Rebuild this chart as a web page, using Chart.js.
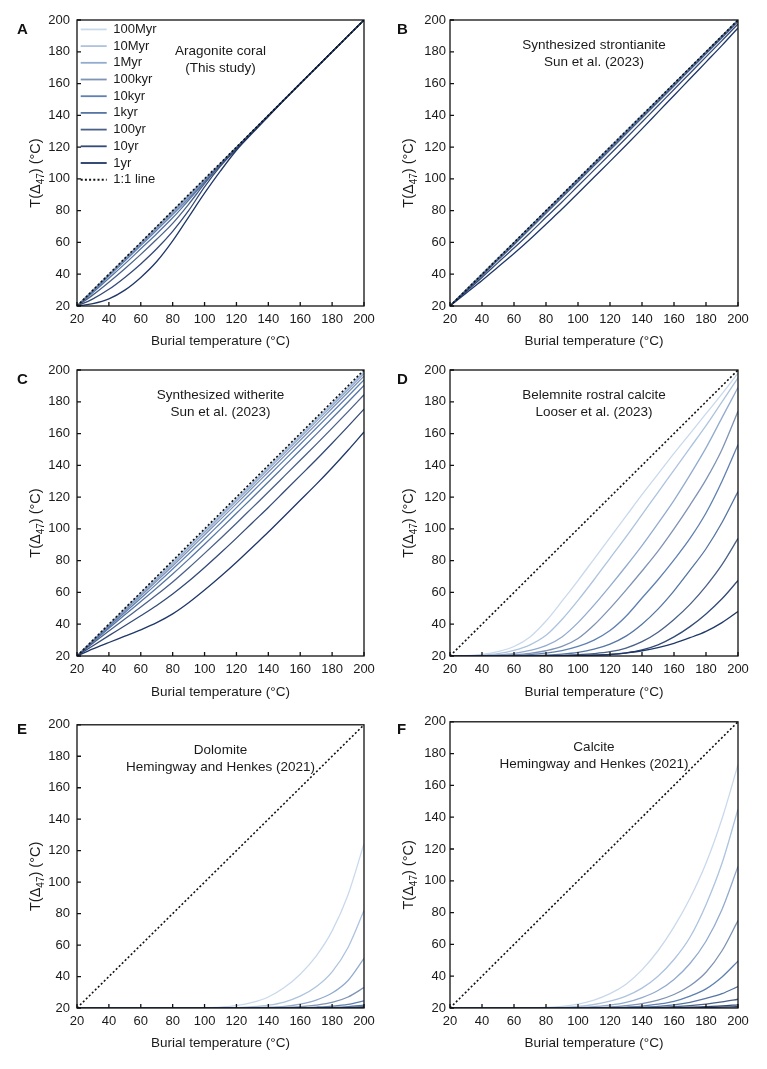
<!DOCTYPE html>
<html>
<head>
<meta charset="utf-8">
<title>Clumped isotope reordering</title>
<script src="https://cdn.jsdelivr.net/npm/chart.js@4.4.0/dist/chart.umd.min.js"></script>
<style>
  body { margin: 0; background: #fff; width: 767px; height: 1069px; position: relative; overflow: hidden; }
  canvas { position: absolute; }
</style>
</head>
<body>
<canvas id="pA" width="384" height="350" style="left:0;top:0"></canvas>
<canvas id="pB" width="383" height="350" style="left:384px;top:0"></canvas>
<canvas id="pC" width="384" height="360" style="left:0;top:350px"></canvas>
<canvas id="pD" width="383" height="360" style="left:384px;top:350px"></canvas>
<canvas id="pE" width="384" height="359" style="left:0;top:710px"></canvas>
<canvas id="pF" width="383" height="359" style="left:384px;top:710px"></canvas>
<script>
// burial temperature grid (°C) and the 1:1 reference line
var burialT  = [20,30,40,50,60,70,80,90,100,110,120,130,140,150,160,170,180,190,200];
var oneToOne = [20,30,40,50,60,70,80,90,100,110,120,130,140,150,160,170,180,190,200];
var axisTicks = [20,40,60,80,100,120,140,160,180,200];

var timeLabels = ['100Myr','10Myr','1Myr','100kyr','10kyr','1kyr','100yr','10yr','1yr'];
var lineColors = ['#c9d9ec','#adc3de','#93abcf','#7f93b4','#5f80b2','#5675a3','#4a6088','#334a77','#1f3768'];

// A - aragonite coral
var aMyr100 = [20,29.9,39.9,49.9,59.9,69.9,79.9,89.9,99.9,109.9,120,130,140,150,160,170,180,190,200];
var aMyr10  = [20,29.9,39.8,49.8,59.8,69.8,79.8,89.8,99.8,109.8,119.9,130,140,150,160,170,180,190,200];
var aMyr1   = [20,29.8,39.7,49.6,59.5,69.5,79.4,89.4,99.5,109.6,119.8,129.9,140,150,160,170,180,190,200];
var aKyr100 = [20,29.7,39.5,49.2,59,68.8,78.7,88.7,98.9,109.3,119.7,129.9,140,150,160,170,180,190,200];
var aKyr10  = [20,29.3,38.8,48.3,58,67.7,77.5,87.6,98,108.9,119.5,129.8,139.9,150,160,170,180,190,200];
var aKyr1   = [20,28.5,37.5,46.5,56,65.5,75.5,86.5,98,109.3,119.6,129.8,139.9,150,160,170,180,190,200];
var aYr100  = [20,27,35,43.5,52.5,62,72,84,97,109,119.4,129.7,139.9,150,160,170,180,190,200];
var aYr10   = [20,24.5,30.5,38,46.5,56,67,80,95,108,118.8,129.5,139.8,149.9,160,170,180,190,200];
var aYr1    = [20,21.5,24.5,30,38,48,61,76,91,105,118,128.8,139.3,149.7,159.9,170,180,190,200];

// B - synthesized strontianite
var bMyr100 = [20,30,40,50,60,70,80,90,100,110,120,130,140,150,160,170,180,190,200];
var bMyr10  = [20,30,40,50,60,70,80,90,100,110,120,130,140,150,160,170,180,190,200];
var bMyr1   = [20,29.97,39.95,49.92,59.9,69.9,79.9,89.9,99.9,109.9,119.9,129.9,139.9,149.9,159.9,169.9,179.9,189.95,200];
var bKyr100 = [20,29.95,39.9,49.85,59.8,69.8,79.75,89.75,99.75,109.75,119.75,129.75,139.75,149.8,159.8,169.8,179.85,189.9,199.9];
var bKyr10  = [20,29.9,39.8,49.7,59.65,69.55,79.5,89.5,99.5,109.5,119.5,129.5,139.5,149.55,159.6,169.65,179.7,189.75,199.8];
var bKyr1   = [20,29.8,39.55,49.35,59.2,69.05,78.95,88.9,98.9,108.9,118.9,128.95,139,149.1,159.2,169.3,179.4,189.5,199.6];
var bYr100  = [20,29.6,39.2,48.9,58.6,68.4,78.3,88.2,98.2,108.2,118.2,128.2,138.3,148.4,158.5,168.6,178.7,188.8,199];
var bYr10   = [20,29,38,47.3,56.5,66,75.8,85.5,95.5,105.5,115.5,125.6,135.8,146,156.3,166.5,176.8,187,197.5];
var bYr1    = [20,28,36,44.5,53,62,71.5,81,91,101,111,121.2,131.5,142,152.5,163,173.5,184,195];

// C - synthesized witherite
var cMyr100 = [20,29.9,39.8,49.7,59.6,69.5,79.4,89.3,99.25,109.2,119.2,129.15,139.15,149.15,159.15,169.15,179.15,189.2,199.2];
var cMyr10  = [20,29.8,39.6,49.4,59.2,69,78.8,88.7,98.65,108.6,118.6,128.55,138.5,148.5,158.5,168.5,178.55,188.6,198.6];
var cMyr1   = [20,29.7,39.4,49,58.7,68.3,78,87.8,97.7,107.6,117.5,127.5,137.5,147.5,157.5,167.5,177.5,187.6,197.7];
var cKyr100 = [20,29.5,39,48.4,57.8,67.2,76.7,86.4,96.2,106,115.9,125.9,135.8,145.8,155.8,165.8,175.9,186,196.1];
var cKyr10  = [20,29.2,38.3,47.4,56.4,65.4,74.7,84.2,93.8,103.6,113.4,123.4,133.3,143.3,153.3,163.3,173.4,183.5,193.8];
var cKyr1   = [20,28.8,37.4,45.9,54.3,62.8,71.6,80.8,90.3,100,109.8,119.6,129.5,139.5,149.5,159.5,169.6,179.9,190.3];
var cYr100  = [20,28,35.7,43.3,50.8,58.5,66.6,75.4,84.6,94,103.6,113.4,123.2,133.2,143.2,153.2,163.4,173.8,184.4];
var cYr10   = [20,26.5,32.8,39,45.3,51.8,59,67,75.7,84.8,94.2,103.9,113.5,123.5,133.5,143.5,153.9,164.5,175.4];
var cYr1    = [20,24.5,28.5,32.5,36.5,41,46.5,53.5,61.5,70,79,88.5,98,108,118,128,138.5,149.5,161];

// D - belemnite rostral calcite
var dMyr100 = [20,20.2,21,22.8,26,32,42,54.5,67.5,81,94.5,108,121.5,134.5,147.5,160,172.5,185,198];
var dMyr10  = [20,20.1,20.5,21.5,23.5,27,33,43,55,68,81.5,95,109,123,137,151,165,180,195];
var dMyr1   = [20,20,20.2,20.7,21.7,23.5,26.5,32,41,52,64,76.5,89.5,103.5,118,134,151,170,189];
var dKyr100 = [20,20,20.1,20.3,20.8,21.7,23.3,26,31,39.5,50,61.5,73.5,86,100,115,131,150,174];
var dKyr10  = [20,20,20,20.1,20.4,20.9,21.8,23.4,26,30,36,45,56.5,68,80.5,94,110,130,153];
var dKyr1   = [20,20,20,20,20.1,20.3,20.6,21.2,22.3,24.3,27.5,32.5,40,49.5,61,74,87.5,104,123.5];
var dYr100  = [20,20,20,20,20,20.1,20.2,20.4,20.8,21.5,22.7,25,29,35,43,52.5,64,77.5,94];
var dYr10   = [20,20,20,20,20,20,20.1,20.15,20.3,20.5,20.9,21.8,23.8,27,32,38.5,46.5,56,67.5];
var dYr1    = [20,20,20,20,20,20,20,20.1,20.2,20.5,21,22,23.3,25.3,28,31.5,35.5,41,48];

// E - dolomite
var eMyr100 = [20,20,20,20,20,20,20,20.05,20.2,20.6,21.5,23.5,27,33,41.5,53,69,92,124.5];
var eMyr10  = [20,20,20,20,20,20,20,20,20.05,20.15,20.3,20.8,21.8,23.8,27.5,33.5,43,58.5,82];
var eMyr1   = [20,20,20,20,20,20,20,20,20,20.05,20.1,20.2,20.5,21,22.5,25,29.5,37.5,51.5];
var eKyr100 = [20,20,20,20,20,20,20,20,20,20,20,20.05,20.15,20.3,20.8,21.8,23.5,27,33];
var eKyr10  = [20,20,20,20,20,20,20,20,20,20,20,20,20,20.1,20.2,20.6,21.2,22.3,24.5];
var eKyr1   = [20,20,20,20,20,20,20,20,20,20,20,20,20,20,20,20.1,20.4,20.9,21.8];
var eYr100  = [20,20,20,20,20,20,20,20,20,20,20,20,20,20,20,20,20.1,20.3,20.8];
var eYr10   = [20,20,20,20,20,20,20,20,20,20,20,20,20,20,20,20,20,20.1,20.3];
var eYr1    = [20,20,20,20,20,20,20,20,20,20,20,20,20,20,20,20,20,20,20.1];

// F - calcite
var fMyr100 = [20,20,20,20,20,20,20.3,21,22.5,25,29,35,44,56,71,89,111,139,173];
var fMyr10  = [20,20,20,20,20,20,20,20.3,21,22.2,24.3,27.5,32.5,40,50.5,64.5,85,111,145];
var fMyr1   = [20,20,20,20,20,20,20,20,20.3,20.9,21.8,23.5,26.5,31,38,48,62,82,109];
var fKyr100 = [20,20,20,20,20,20,20,20,20,20.3,20.7,21.5,22.8,25,28.5,34,42.5,56,75];
var fKyr10  = [20,20,20,20,20,20,20,20,20,20,20.2,20.6,21.2,22.4,24.2,27.5,32,39.5,49.5];
var fKyr1   = [20,20,20,20,20,20,20,20,20,20,20,20.2,20.5,21,22,23.6,26,29,33.5];
var fYr100  = [20,20,20,20,20,20,20,20,20,20,20,20,20.1,20.3,20.8,21.5,22.5,23.8,25.5];
var fYr10   = [20,20,20,20,20,20,20,20,20,20,20,20,20,20,20.2,20.5,20.9,21.3,22];
var fYr1    = [20,20,20,20,20,20,20,20,20,20,20,20,20,20,20,20.1,20.3,20.5,20.8];

var FONT = '"Liberation Sans", Arial, sans-serif';
Chart.defaults.font.family = FONT;
Chart.defaults.font.size = 13;
Chart.defaults.color = '#1a1a1a';

function drawYTitle(ctx, x, y) {
  var parts = [['T(\u0394', '14.5px ' + FONT, 0], ['47', '10px ' + FONT, 4], [') (\u00b0C)', '14.5px ' + FONT, 0]];
  ctx.save();
  ctx.translate(x, y);
  ctx.rotate(-Math.PI / 2);
  ctx.textAlign = 'left';
  ctx.textBaseline = 'alphabetic';
  var total = 0;
  parts.forEach(function(p) { ctx.font = p[1]; total += ctx.measureText(p[0]).width; });
  var cx = -total / 2;
  parts.forEach(function(p) {
    ctx.font = p[1];
    ctx.fillText(p[0], cx, 5 + p[2]);
    cx += ctx.measureText(p[0]).width;
  });
  ctx.restore();
}

// frame, inward ticks, panel letter, notes and y title
var panelDecor = {
  id: 'panelDecor',
  afterDraw: function(chart, args, opts) {
    var ctx = chart.ctx, a = chart.chartArea, sx = chart.scales.x, sy = chart.scales.y;
    ctx.save();
    ctx.strokeStyle = '#111';
    ctx.lineWidth = 1.3;
    ctx.strokeRect(a.left, a.top, a.right - a.left, a.bottom - a.top);
    ctx.beginPath();
    axisTicks.forEach(function(v) {
      var px = sx.getPixelForValue(v), py = sy.getPixelForValue(v);
      ctx.moveTo(px, a.bottom); ctx.lineTo(px, a.bottom - 4);
      ctx.moveTo(a.left, py); ctx.lineTo(a.left + 4, py);
    });
    ctx.stroke();

    ctx.fillStyle = '#111';
    ctx.font = 'bold 15px ' + FONT;
    ctx.textAlign = 'left';
    ctx.textBaseline = 'top';
    ctx.fillText(opts.letter, opts.letterX, opts.letterY);

    ctx.fillStyle = '#1a1a1a';
    ctx.font = '13.5px ' + FONT;
    ctx.textAlign = 'center';
    ctx.textBaseline = 'middle';
    var cx = (a.left + a.right) / 2;
    opts.notes.forEach(function(t, i) { ctx.fillText(t, cx, a.top + opts.noteY + i * 17); });

    drawYTitle(ctx, a.left - 42, (a.top + a.bottom) / 2 + 10);
    ctx.restore();
  }
};

var panels = [
  { id: 'pA', letter: 'A', letterX: 17, letterY: 22, padTop: 20, padRight: 20, yW: 77, xH: 44, xTitlePad: 1, yTickPad: 7,
    notes: ['Aragonite coral', '(This study)'], noteY: 31, legend: true,
    curves: [aMyr100, aMyr10, aMyr1, aKyr100, aKyr10, aKyr1, aYr100, aYr10, aYr1] },
  { id: 'pB', letter: 'B', letterX: 13, letterY: 22, padTop: 20, padRight: 29, yW: 66, xH: 44, xTitlePad: 1, yTickPad: 4,
    notes: ['Synthesized strontianite', 'Sun et al. (2023)'], noteY: 25, legend: false,
    curves: [bMyr100, bMyr10, bMyr1, bKyr100, bKyr10, bKyr1, bYr100, bYr10, bYr1] },
  { id: 'pC', letter: 'C', letterX: 17, letterY: 22, padTop: 20, padRight: 20, yW: 77, xH: 54, xTitlePad: 10, yTickPad: 7,
    notes: ['Synthesized witherite', 'Sun et al. (2023)'], noteY: 25, legend: false,
    curves: [cMyr100, cMyr10, cMyr1, cKyr100, cKyr10, cKyr1, cYr100, cYr10, cYr1] },
  { id: 'pD', letter: 'D', letterX: 13, letterY: 22, padTop: 20, padRight: 29, yW: 66, xH: 54, xTitlePad: 10, yTickPad: 4,
    notes: ['Belemnite rostral calcite', 'Looser et al. (2023)'], noteY: 25, legend: false,
    curves: [dMyr100, dMyr10, dMyr1, dKyr100, dKyr10, dKyr1, dYr100, dYr10, dYr1] },
  { id: 'pE', letter: 'E', letterX: 17, letterY: 12, padTop: 11, padRight: 20, yW: 77, xH: 61, xTitlePad: 18, yTickPad: 7,
    notes: ['Dolomite', 'Hemingway and Henkes (2021)'], noteY: 25, legend: false,
    curves: [eMyr100, eMyr10, eMyr1, eKyr100, eKyr10, eKyr1, eYr100, eYr10, eYr1] },
  { id: 'pF', letter: 'F', letterX: 13, letterY: 12, padTop: 11, padRight: 29, yW: 66, xH: 61, xTitlePad: 18, yTickPad: 4,
    notes: ['Calcite', 'Hemingway and Henkes (2021)'], noteY: 25, legend: false,
    curves: [fMyr100, fMyr10, fMyr1, fKyr100, fKyr10, fKyr1, fYr100, fYr10, fYr1] }
];

function toPoints(vals) {
  return burialT.map(function(t, k) { return { x: t, y: vals[k] }; });
}

panels.forEach(function(p) {
  var datasets = p.curves.map(function(vals, i) {
    return {
      label: timeLabels[i],
      data: toPoints(vals),
      borderColor: lineColors[i],
      backgroundColor: lineColors[i],
      borderWidth: 1.3,
      pointRadius: 0,
      pointStyle: 'line',
      cubicInterpolationMode: 'monotone',
      fill: false,
      order: timeLabels.length - i
    };
  });
  datasets.push({
    label: '1:1 line',
    data: toPoints(oneToOne),
    borderColor: '#111',
    backgroundColor: '#111',
    borderWidth: 1.6,
    borderDash: [2, 2.2],
    pointRadius: 0,
    pointStyle: 'line',
    fill: false,
    order: 0
  });

  new Chart(document.getElementById(p.id), {
    type: 'line',
    data: { datasets: datasets },
    plugins: [panelDecor],
    options: {
      responsive: false,
      animation: false,
      events: [],
      layout: { padding: { left: 0, top: p.padTop, right: p.padRight, bottom: 0 } },
      scales: {
        x: {
          type: 'linear', min: 20, max: 200,
          grid: { display: false, drawTicks: false },
          border: { display: false },
          ticks: { stepSize: 20, autoSkip: false, maxRotation: 0, padding: 6, font: { size: 13 }, color: '#1a1a1a' },
          title: { display: true, text: 'Burial temperature (\u00b0C)', font: { size: 13.5 }, color: '#1a1a1a',
                   padding: { top: 0, bottom: p.xTitlePad } },
          afterFit: function(s) { s.height = p.xH; }
        },
        y: {
          type: 'linear', min: 20, max: 200,
          grid: { display: false, drawTicks: false },
          border: { display: false },
          ticks: { stepSize: 20, padding: p.yTickPad, font: { size: 13 }, color: '#1a1a1a' },
          afterFit: function(s) { s.width = p.yW; }
        }
      },
      plugins: {
        tooltip: { enabled: false },
        legend: {
          display: p.legend,
          position: 'chartArea',
          align: 'start',
          // the empty title only pushes the list down inside the plot box
          title: { display: true, text: '', font: { size: 1 }, padding: { top: 9, bottom: 9 } },
          labels: {
            usePointStyle: true,
            pointStyleWidth: 26,
            boxHeight: 8,
            padding: 3.7,
            font: { size: 13 },
            color: '#1a1a1a',
            generateLabels: function(chart) {
              return chart.data.datasets.map(function(ds, i) {
                return {
                  text: ds.label, datasetIndex: i, hidden: false,
                  strokeStyle: ds.borderColor, fillStyle: ds.borderColor,
                  lineWidth: ds.borderWidth + 0.5, lineDash: ds.borderDash || [],
                  pointStyle: 'line', fontColor: '#1a1a1a'
                };
              });
            }
          }
        },
        panelDecor: { letter: p.letter, letterX: p.letterX, letterY: p.letterY, notes: p.notes, noteY: p.noteY }
      }
    }
  });
});
</script>
</body>
</html>
